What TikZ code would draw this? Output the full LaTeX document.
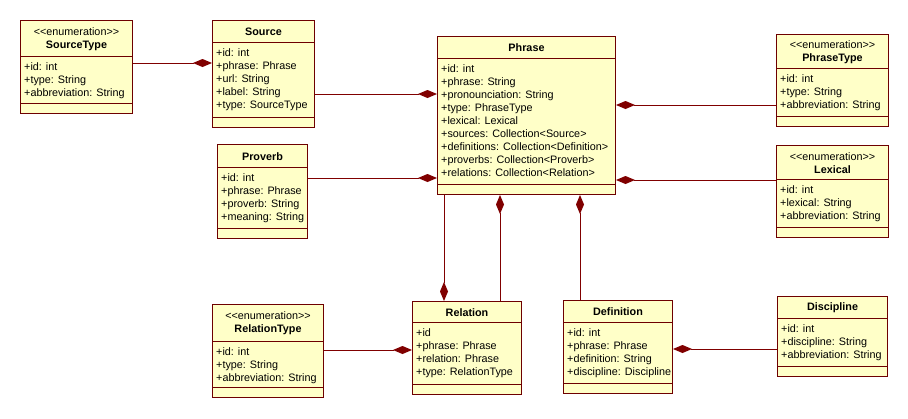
\documentclass[tikz,border=0pt]{standalone}
\usepackage{fontspec}
\newfontfamily\umlfont{Liberation Sans}
\usetikzlibrary{arrows.meta}
\definecolor{umlfill}{RGB}{255,255,200}
\definecolor{umlborder}{RGB}{110,0,0}
\definecolor{umlline}{RGB}{128,0,0}
% #1 name, #2 x, #3 y, #4 width, #5 title height, #6 attribute height, #7 title, #8 attributes
\newcommand{\umlclass}[8]{%
  \node[classbox, minimum width=#4pt, minimum height=#5pt+#6pt+10pt, anchor=north west] (#1) at (#2,#3) {};
  \draw[classline] ([yshift=-#5pt]#1.north west) -- ([yshift=-#5pt]#1.north east);
  \draw[classline] ([yshift=-#5pt-#6pt]#1.north west) -- ([yshift=-#5pt-#6pt]#1.north east);
  \node[classtitle] at ([yshift=-0.5*#5pt-1pt]#1.north) {#7};
  \foreach \field [count=\i] in {#8}
    \node[classattr] at ([xshift=4pt, yshift=-#5pt-\i*13pt-1pt]#1.north west) {\field};
}
\begin{document}
\begin{tikzpicture}[x=1pt,y=-1pt,
  classbox/.style={draw=umlborder, fill=umlfill, line width=1pt, inner sep=0pt},
  classline/.style={draw=umlborder, line width=1pt},
  classtitle/.style={font=\umlfont\fontsize{10.8}{13}\selectfont, align=center, inner sep=0pt},
  classattr/.style={font=\umlfont\fontsize{10.8}{13}\selectfont, anchor=base west, inner sep=0pt},
  comp/.style={draw=umlline, line width=1pt, -{Diamond[length=19pt,width=8pt]}}]
\useasboundingbox (0,0) rectangle (908,418);
\umlclass{SourceType}{20}{20}{112}{36}{47}{<<enumeration>>\\\textbf{SourceType}}{+id: int,+type: String,+abbreviation: String}
\umlclass{Source}{212}{20}{102}{22}{75}{\textbf{Source}}{+id: int,+phrase: Phrase,+url: String,+label: String,+type: SourceType}
\umlclass{Phrase}{437}{36}{178}{22}{126}{\textbf{Phrase}}{+id: int,+phrase: String,+pronounciation: String,+type: PhraseType,+lexical: Lexical,+sources: Collection<Source>,+definitions: Collection<Definition>,+proverbs: Collection<Proverb>,+relations: Collection<Relation>}
\umlclass{PhraseType}{776}{34}{112}{34}{48}{<<enumeration>>\\\textbf{PhraseType}}{+id: int,+type: String,+abbreviation: String}
\umlclass{Lexical}{776}{145}{112}{34}{48}{<<enumeration>>\\\textbf{Lexical}}{+id: int,+lexical: String,+abbreviation: String}
\umlclass{Proverb}{217}{144}{90}{23}{61}{\textbf{Proverb}}{+id: int,+phrase: Phrase,+proverb: String,+meaning: String}
\umlclass{RelationType}{212}{304}{111}{37}{46}{<<enumeration>>\\\textbf{RelationType}}{+id: int,+type: String,+abbreviation: String}
\umlclass{Relation}{412}{301}{109}{21}{62}{\textbf{Relation}}{+id,+phrase: Phrase,+relation: Phrase,+type: RelationType}
\umlclass{Definition}{563}{300}{109}{22}{61}{\textbf{Definition}}{+id: int,+phrase: Phrase,+definition: String,+discipline: Discipline}
\umlclass{Discipline}{777}{296}{110}{22}{48}{\textbf{Discipline}}{+id: int,+discipline: String,+abbreviation: String}
\draw[comp] (SourceType.east |- 0,63) -- (Source.west |- 0,63);
\draw[comp] (Source.east |- 0,94) -- (Phrase.west |- 0,94);
\draw[comp] (Proverb.east |- 0,178) -- (Phrase.west |- 0,178);
\draw[comp] (PhraseType.west |- 0,105) -- (Phrase.east |- 0,105);
\draw[comp] (Lexical.west |- 0,180) -- (Phrase.east |- 0,180);
\draw[comp] (Phrase.south -| 444,0) -- (Relation.north -| 444,0);
\draw[comp] (Relation.north -| 500,0) -- (Phrase.south -| 500,0);
\draw[comp] (Definition.north -| 580,0) -- (Phrase.south -| 580,0);
\draw[comp] (RelationType.east |- 0,350) -- (Relation.west |- 0,350);
\draw[comp] (Discipline.west |- 0,349) -- (Definition.east |- 0,349);
\end{tikzpicture}
\end{document}
